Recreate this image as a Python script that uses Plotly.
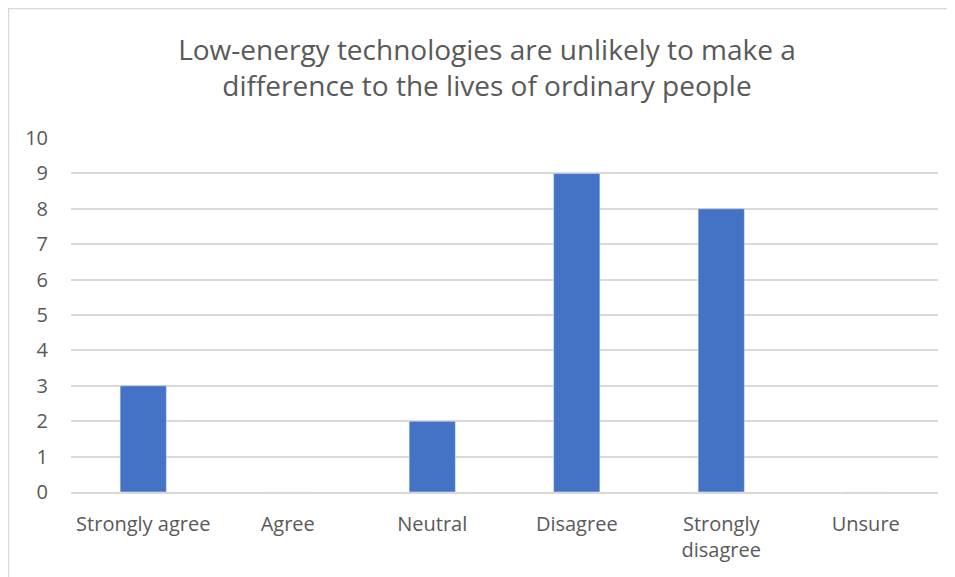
import plotly.graph_objects as go

categories = ["Strongly agree", "Agree", "Neutral", "Disagree", "Strongly<br>disagree", "Unsure"]
values = [3, 0, 2, 9, 8, 0]
y_ticks = list(range(0, 11))

title_text = "Low-energy technologies are unlikely to make a<br>difference to the lives of ordinary people"

fig = go.Figure(go.Bar(x=categories, y=values, marker_color="#4472C4", width=0.32))

# page body has an 8px margin; figure coordinates are page - 8
W, H = 947, 569
ml, mr, mt, mb = 63, 17, 130, 85
pw, ph = W - ml - mr, H - mt - mb

fig.update_layout(
    width=W, height=H,
    margin=dict(l=ml, r=mr, t=mt, b=mb, autoexpand=False),
    paper_bgcolor="white", plot_bgcolor="white",
    font=dict(family="Open Sans, sans-serif", color="#595959", size=20),
    title=dict(text=title_text, x=479 / W, xanchor="center", y=1 - 52 / H, yanchor="middle",
               font=dict(size=28, color="#595959")),
    showlegend=False,
)
fig.update_xaxes(showgrid=False, showline=True, linecolor="#D9D9D9", linewidth=1.5,
                 ticks="", ticklabelstandoff=13, tickfont=dict(size=20))
fig.update_yaxes(range=[0, 10], tickvals=y_ticks, showgrid=True, gridcolor="#D9D9D9",
                 gridwidth=1.5, zeroline=False, showline=False, ticks="",
                 ticklabelstandoff=22, tickfont=dict(size=20))

# outer chart border
fig.add_shape(type="rect", xref="paper", yref="paper", x0=(0.5 - ml) / pw, x1=(W + 5 - ml) / pw,
              y0=-(mb + 5) / ph, y1=1 + (mt - 0.5) / ph, line=dict(color="#D9D9D9", width=1.5),
              fillcolor="rgba(0,0,0,0)", layer="below")

fig.write_html("out.html")
